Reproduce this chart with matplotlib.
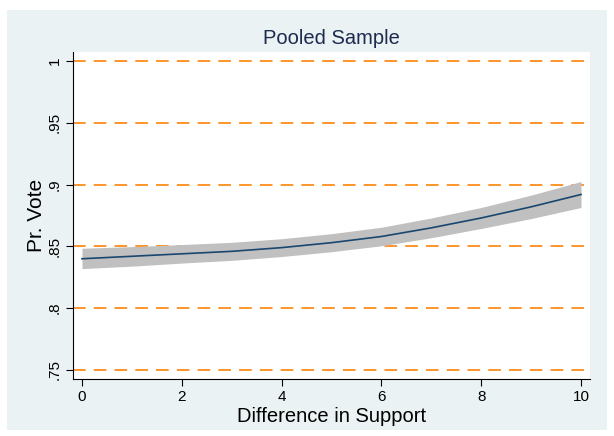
import matplotlib
matplotlib.use("Agg")
import matplotlib.pyplot as plt
from matplotlib.patches import Rectangle

plt.rcParams["font.family"] = ["Liberation Sans", "DejaVu Sans"]

# data
support = [0, 1, 2, 3, 4, 5, 6, 7, 8, 9, 10]
pr_vote = [0.840, 0.842, 0.844, 0.846, 0.849, 0.853, 0.858, 0.865, 0.873, 0.882, 0.892]
ci_low = [0.832, 0.834, 0.8365, 0.8387, 0.8418, 0.8457, 0.8505, 0.857, 0.8645, 0.8725, 0.8815]
ci_high = [0.8485, 0.8498, 0.8515, 0.8533, 0.8562, 0.8603, 0.8655, 0.873, 0.8815, 0.8915, 0.9025]
y_ticks = [0.75, 0.8, 0.85, 0.9, 0.95, 1.0]
y_labels = [".75", ".8", ".85", ".9", ".95", "1"]
x_ticks = [0, 2, 4, 6, 8, 10]

W, H = 614, 436
bg = "#eaf2f3"
fig = plt.figure(figsize=(W / 100, H / 100), dpi=100)
fig.patch.set_facecolor("white")
fig.patches.append(Rectangle((7 / W, 1 - 430 / H), 600 / W, 420 / H,
                             transform=fig.transFigure, facecolor=bg,
                             edgecolor="none", zorder=-10))

ax = fig.add_axes([73 / W, 1 - 379 / H, (590 - 73) / W, (379 - 52) / H])
ax.set_facecolor("white")

for v in y_ticks:
    ax.axhline(v, color="#ff8c1a", lw=1.3, dashes=(7, 4.5), zorder=1)

ax.fill_between(support, ci_low, ci_high, color="#c0c0c0", lw=0, zorder=2)
ax.plot(support, pr_vote, color="#1a476f", lw=1.2, zorder=3)

ax.set_xlim(-0.18, 10.18)
ax.set_ylim(0.7427, 1.0073)
ax.set_xticks(x_ticks)
ax.set_yticks(y_ticks)
ax.set_yticklabels(y_labels, rotation=90, va="center")
ax.tick_params(axis="both", direction="out", length=5, width=0.8,
               labelsize=11, colors="black", pad=3)

for side in ("top", "right"):
    ax.spines[side].set_visible(False)
for side in ("left", "bottom"):
    ax.spines[side].set_color("black")
    ax.spines[side].set_linewidth(0.8)

ax.set_title("Pooled Sample", fontsize=14.5, color="#1c2b4f", pad=6)
ax.set_xlabel("Difference in Support", fontsize=14.5, labelpad=2)
ax.set_ylabel("Pr. Vote", fontsize=15, labelpad=1)

fig.savefig("out.png", dpi=100, facecolor=fig.get_facecolor())
